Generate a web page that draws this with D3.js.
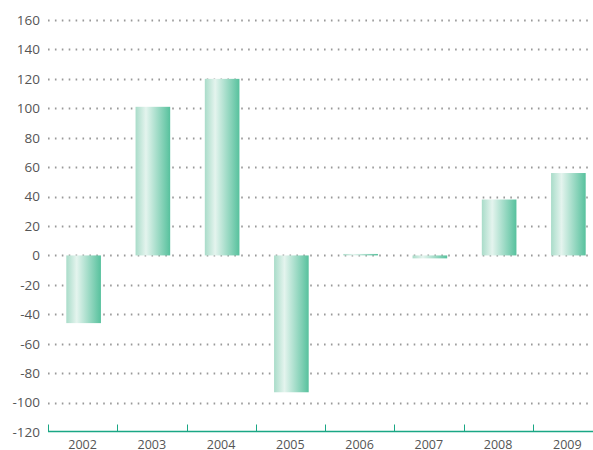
<!DOCTYPE html>
<html>
<head>
<meta charset="utf-8">
<script src="https://cdn.jsdelivr.net/npm/d3@7"></script>
<style>
  body { margin: 0; background: #fff; }
  svg text { font-family: "Open Sans", sans-serif; fill: #555; }
</style>
</head>
<body>
<svg id="chart" width="593" height="450"></svg>
<script>
const years = ["2002", "2003", "2004", "2005", "2006", "2007", "2008", "2009"];
const values = [-46, 101, 120, -93, 1, -2, 38, 56];
const yTicks = [160, 140, 120, 100, 80, 60, 40, 20, 0, -20, -40, -60, -80, -100, -120];

const width = 593, height = 450,
  margin = {top: 20, right: -9, bottom: 18, left: 48};

const svg = d3.select("#chart");

// gradient for the bars
const grad = svg.append("defs").append("linearGradient")
  .attr("id", "barGrad")
  .attr("x1", "0%").attr("x2", "100%").attr("y1", "0%").attr("y2", "0%");
grad.append("stop").attr("offset", "0%").attr("stop-color", "#a9dcc9");
grad.append("stop").attr("offset", "30%").attr("stop-color", "#e4f4ee");
grad.append("stop").attr("offset", "100%").attr("stop-color", "#57c19d");

const x = d3.scaleBand()
  .domain(years)
  .range([margin.left, width - margin.right])
  .paddingInner(0)
  .paddingOuter(0);

const y = d3.scaleLinear()
  .domain([-120, 160])
  .range([height - margin.bottom, margin.top]);

// dotted gridlines
svg.append("g")
  .selectAll("line")
  .data(yTicks.filter(d => d !== -120))
  .join("line")
  .attr("x1", margin.left)
  .attr("x2", width)
  .attr("y1", d => Math.round(y(d)) + 0.5)
  .attr("y2", d => Math.round(y(d)) + 0.5)
  .attr("stroke", "#999")
  .attr("stroke-width", 2)
  .attr("stroke-dasharray", "1.6,5.3");

// y labels
svg.append("g")
  .selectAll("text")
  .data(yTicks)
  .join("text")
  .attr("x", 40)
  .attr("y", d => y(d))
  .attr("dy", "0.36em")
  .attr("text-anchor", "end")
  .style("font-size", "13.5px")
  .text(d => d);

// bars
const bw = x.bandwidth() * 0.5;
svg.append("g")
  .selectAll("rect")
  .data(values)
  .join("rect")
  .attr("x", (d, i) => x(years[i]) + (x.bandwidth() - bw) / 2 + 1)
  .attr("width", bw)
  .attr("y", d => y(Math.max(0, d)))
  .attr("height", d => Math.max(1, Math.abs(y(d) - y(0))))
  .attr("fill", "url(#barGrad)");

// x axis
const axisY = Math.round(y(-120)) - 0.5;
svg.append("line")
  .attr("x1", margin.left).attr("x2", width)
  .attr("y1", axisY).attr("y2", axisY)
  .attr("stroke", "#1aa785").attr("stroke-width", 1.5);

svg.append("g")
  .selectAll("line")
  .data(years)
  .join("line")
  .attr("x1", d => Math.round(x(d)) + 0.5)
  .attr("x2", d => Math.round(x(d)) + 0.5)
  .attr("y1", axisY - 7)
  .attr("y2", axisY)
  .attr("stroke", "#1aa785")
  .attr("stroke-width", 1);

svg.append("g")
  .selectAll("text")
  .data(years)
  .join("text")
  .attr("x", d => x(d) + x.bandwidth() / 2)
  .attr("y", axisY + 17)
  .attr("text-anchor", "middle")
  .style("font-size", "12.5px")
  .text(d => d);
</script>
</body>
</html>
